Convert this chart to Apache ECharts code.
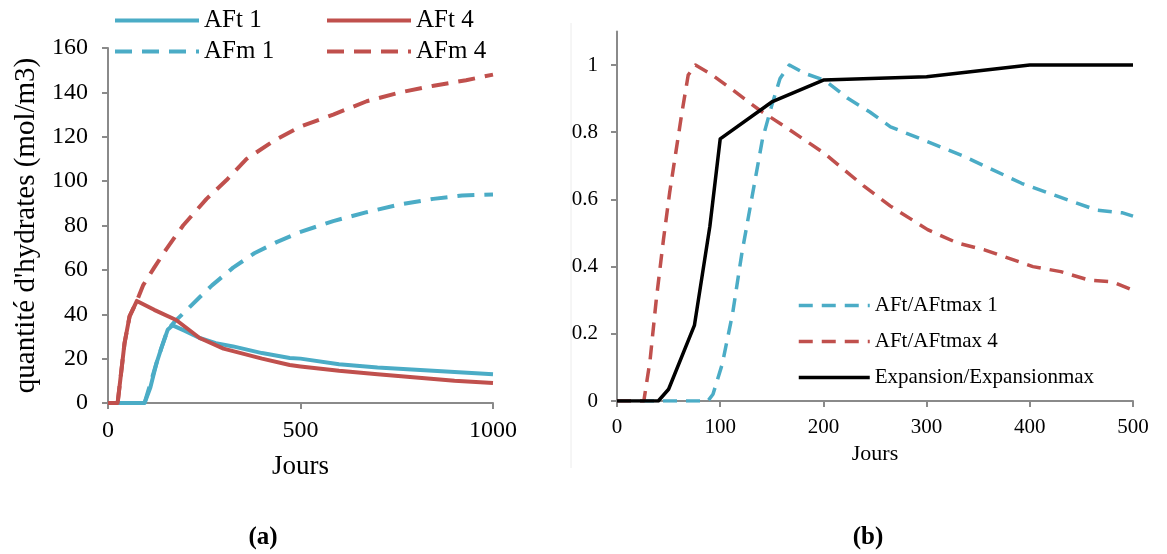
<!DOCTYPE html>
<html>
<head>
<meta charset="utf-8">
<script src="https://cdn.jsdelivr.net/npm/echarts@6/dist/echarts.min.js"></script>
<style>
html,body{margin:0;padding:0;background:#fff;}
#c{width:1167px;height:554px;}
</style>
</head>
<body>
<div id="c"></div>
<script>
// ---------- Chart (a): quantité d'hydrates ----------
const aft1Days = [0, 95, 110, 126, 139, 155, 168, 200, 238, 280, 325, 400, 472, 500, 600, 700, 800, 900, 1000];
const aft1Vals = [0, 0, 7, 18, 25, 33, 35, 32.5, 29.3, 27, 25.5, 22.5, 20.3, 20, 17.5, 16, 15, 14, 13];

const aft4Days = [0, 25, 35, 43, 56, 75, 120, 177, 238, 300, 400, 472, 500, 600, 700, 800, 900, 1000];
const aft4Vals = [0, 0, 15, 27, 39, 46, 42, 37.4, 29.3, 24.5, 20, 17.1, 16.5, 14.5, 13, 11.5, 10, 9];

const afm1Days = [95, 126, 139, 155, 175, 205, 240, 270, 325, 380, 438, 498, 585, 672, 758, 845, 920, 1000];
const afm1Vals = [0, 18, 25, 33, 37, 42, 48, 53, 61, 67.5, 72.5, 77, 82, 86, 89.5, 92, 93.5, 94];

const afm4Days = [25, 43, 56, 75, 91, 120, 152, 195, 256, 308, 360, 429, 499, 585, 672, 759, 846, 930, 1000];
const afm4Vals = [0, 27, 39, 46, 53, 61, 69.5, 80, 92, 100.5, 110, 118, 124.5, 130, 136, 140, 143, 145.5, 148];

const leftXTicks = { min: 0, max: 1000, interval: 500 };
const leftYTicks = { min: 0, max: 160, interval: 20 };

// ---------- Chart (b): ratios ----------
const r1Days = [0, 88, 93, 102, 112, 121, 131, 141, 150, 158, 167, 182, 201, 224, 245, 265, 305, 337, 392, 428, 465, 490, 500];
const r1Vals = [0, 0, 0.02, 0.11, 0.26, 0.44, 0.61, 0.78, 0.88, 0.96, 1.0, 0.975, 0.955, 0.9, 0.86, 0.816, 0.767, 0.727, 0.648, 0.608, 0.568, 0.56, 0.55];

const r4Days = [0, 26, 32, 38, 45, 51, 57, 63, 69, 76, 90, 112, 138, 163, 201, 239, 265, 301, 330, 356, 403, 430, 457, 480, 500];
const r4Vals = [0, 0, 0.12, 0.3, 0.48, 0.62, 0.74, 0.86, 0.97, 1.0, 0.975, 0.926, 0.866, 0.816, 0.737, 0.64, 0.58, 0.51, 0.47, 0.45, 0.40, 0.385, 0.36, 0.355, 0.33];

const expDays = [0, 40, 50, 75, 90, 100, 150, 200, 300, 400, 500];
const expVals = [0, 0, 0.035, 0.225, 0.52, 0.78, 0.89, 0.955, 0.965, 1.0, 1.0];

const rightXTicks = { min: 0, max: 500, interval: 100 };
const rightYTicks = { min: 0, max: 1.1, interval: 0.2 };

const names = ['AFt 1', 'AFt 4', 'AFm 1', 'AFm 4', 'AFt/AFtmax 1', 'AFt/AFtmax 4', 'Expansion/Expansionmax'];

// ---------- helpers ----------
const zip = (xs, ys) => xs.map((x, i) => [x, ys[i]]);
const FONT = "'Liberation Serif', 'Times New Roman', serif";
const CYAN = '#4bacc6';
const RED = '#c0504d';
const AXIS = '#8a8a8a';

function axisCommon(fontSize, margin) {
  return {
    axisLine: { show: true, onZero: false, lineStyle: { color: AXIS, width: 2 } },
    axisTick: { show: true, inside: false, length: 6, lineStyle: { color: AXIS, width: 2 } },
    splitLine: { show: false },
    axisLabel: { color: '#000', fontFamily: FONT, fontSize: fontSize, margin: margin, formatter: (v) => String(v) }
  };
}

function lineSeries(name, data, color, width, dashed, xi, yi, z) {
  return {
    name: name, type: 'line', xAxisIndex: xi, yAxisIndex: yi,
    data: data, symbol: 'none', showSymbol: false, z: z,
    lineStyle: { color: color, width: width, type: dashed ? dashed : 'solid', cap: 'butt', join: 'round' },
    itemStyle: { color: color },
    emphasis: { disabled: true }
  };
}

const chart = echarts.init(document.getElementById('c'), null, { renderer: 'canvas' });

const leftLegText = { color: '#000', fontFamily: FONT, fontSize: 25 };
const rightLegText = { color: '#000', fontFamily: FONT, fontSize: 21 };
const hiddenSymbol = { color: 'rgba(0,0,0,0)', borderWidth: 0, opacity: 0 };

function leftLegend(name, left, top) {
  return {
    data: [name], left: left, top: top, padding: 0, itemWidth: 84, itemHeight: 24,
    textStyle: leftLegText, selectedMode: false,
    itemStyle: hiddenSymbol, lineStyle: { width: 4 }
  };
}

const option = {
  animation: false,
  backgroundColor: '#fff',
  grid: [
    { left: 108, top: 48, width: 385, height: 355, containLabel: false },
    { left: 617, top: 31.4, width: 516, height: 369.6, containLabel: false }
  ],
  xAxis: [
    Object.assign(axisCommon(24, 16), {
      type: 'value', gridIndex: 0, min: leftXTicks.min, max: leftXTicks.max, interval: leftXTicks.interval,
      name: 'Jours', nameLocation: 'middle', nameGap: 50,
      nameTextStyle: { color: '#000', fontFamily: FONT, fontSize: 27 }
    }),
    Object.assign(axisCommon(21, 16), {
      type: 'value', gridIndex: 1, min: rightXTicks.min, max: rightXTicks.max, interval: rightXTicks.interval,
      name: 'Jours', nameLocation: 'middle', nameGap: 41,
      nameTextStyle: { color: '#000', fontFamily: FONT, fontSize: 22 }
    })
  ],
  yAxis: [
    Object.assign(axisCommon(24, 20), {
      type: 'value', gridIndex: 0, min: leftYTicks.min, max: leftYTicks.max, interval: leftYTicks.interval,
      name: "quantité d'hydrates (mol/m3)", nameLocation: 'middle', nameGap: 67,
      nameTextStyle: { color: '#000', fontFamily: FONT, fontSize: 29 }
    }),
    (function () {
      const a = axisCommon(21, 19);
      a.axisLabel.showMaxLabel = false;
      return Object.assign(a, {
        type: 'value', gridIndex: 1, min: rightYTicks.min, max: rightYTicks.max, interval: rightYTicks.interval
      });
    })()
  ],
  legend: [
    leftLegend(names[0], 113, 8),
    leftLegend(names[1], 325, 8),
    leftLegend(names[2], 113, 39),
    leftLegend(names[3], 325, 39),
    { data: [names[4], names[5], names[6]], orient: 'vertical', left: 797, top: 295, padding: 0,
      itemWidth: 71, itemHeight: 22, itemGap: 15, textStyle: rightLegText, selectedMode: false,
      itemStyle: hiddenSymbol, lineStyle: { width: 3.5 } }
  ],
  series: [
    lineSeries(names[2], zip(afm1Days, afm1Vals), CYAN, 4, [17, 10], 0, 0, 2),
    lineSeries(names[3], zip(afm4Days, afm4Vals), RED, 4, [17, 10], 0, 0, 2),
    lineSeries(names[0], zip(aft1Days, aft1Vals), CYAN, 4, null, 0, 0, 3),
    lineSeries(names[1], zip(aft4Days, aft4Vals), RED, 4, null, 0, 0, 4),
    lineSeries(names[4], zip(r1Days, r1Vals), CYAN, 3.5, [14, 9], 1, 1, 2),
    lineSeries(names[5], zip(r4Days, r4Vals), RED, 3.5, [14, 9], 1, 1, 2),
    lineSeries(names[6], zip(expDays, expVals), '#000', 3.5, null, 1, 1, 3)
  ],
  graphic: [
    { type: 'line', silent: true, shape: { x1: 571, y1: 23, x2: 571, y2: 468 }, style: { stroke: '#ececec', lineWidth: 1 } },
    { type: 'text', silent: true, x: 263, y: 538, style: { text: '(a)', fill: '#000', font: "bold 25px 'Liberation Serif', 'Times New Roman', serif", textAlign: 'center', textVerticalAlign: 'middle' } },
    { type: 'text', silent: true, x: 868, y: 538, style: { text: '(b)', fill: '#000', font: "bold 25px 'Liberation Serif', 'Times New Roman', serif", textAlign: 'center', textVerticalAlign: 'middle' } }
  ]
};

chart.setOption(option);
</script>
</body>
</html>
